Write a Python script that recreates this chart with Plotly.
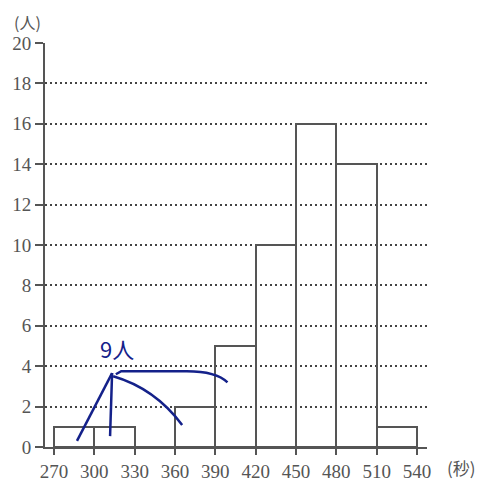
import plotly.graph_objects as go

# data
bin_edges = [270, 300, 330, 360, 390, 420, 450, 480, 510, 540]
counts = [1, 1, 0, 2, 5, 10, 16, 14, 1]
y_ticks = [0, 2, 4, 6, 8, 10, 12, 14, 16, 18, 20]
x_tick_labels = [str(e) for e in bin_edges]

centers = [(a + b) / 2 for a, b in zip(bin_edges[:-1], bin_edges[1:])]
widths = [b - a for a, b in zip(bin_edges[:-1], bin_edges[1:])]

GRAY = "#555555"
INK = "#14218a"
FONT = "Liberation Serif"

fig = go.Figure()
fig.add_trace(go.Bar(
    x=centers, y=counts, width=widths,
    marker=dict(color="rgba(255,255,255,0)", line=dict(color=GRAY, width=2)),
    hoverinfo="skip",
))

fig.update_layout(
    width=475, height=475,
    margin=dict(l=37, r=56, t=35, b=36),
    plot_bgcolor="white", paper_bgcolor="white",
    showlegend=False,
    bargap=0,
    font=dict(family=FONT, color=GRAY, size=19),
)
fig.update_xaxes(
    range=[263.3, 547.4], automargin=False,
    tickmode="array", tickvals=bin_edges, ticktext=x_tick_labels,
    ticks="outside", ticklen=6, tickwidth=1.5, tickcolor=GRAY,
    showline=True, linecolor=GRAY, linewidth=2,
    showgrid=False, zeroline=False,
    tickfont=dict(family=FONT, size=19, color=GRAY),
)
fig.update_yaxes(
    range=[0, 20], automargin=False,
    tickmode="array", tickvals=y_ticks,
    ticks="outside", ticklen=8, tickwidth=1.5, tickcolor=GRAY,
    showline=True, linecolor=GRAY, linewidth=2,
    showgrid=True, gridcolor="#444444", gridwidth=1.5, griddash="2px,3px",
    zeroline=False,
    tickfont=dict(family=FONT, size=19, color=GRAY),
)

# x-axis line extends a little to the left of the y-axis
fig.add_shape(type="line", xref="paper", yref="paper", x0=-0.021, x1=0, y0=0, y1=0,
              line=dict(color=GRAY, width=2))

fig.add_annotation(text="(人)", xref="paper", yref="paper", x=-0.045, y=1.052,
                   xanchor="center", yanchor="middle", showarrow=False, borderpad=0,
                   font=dict(family="Noto Sans CJK JP", size=16, color=GRAY))
fig.add_annotation(text="(秒)", xref="paper", yref="paper", x=1.05, y=-0.05,
                   xanchor="left", yanchor="middle", showarrow=False, borderpad=0,
                   font=dict(family="Noto Sans CJK JP", size=17, color=GRAY))

# handwritten note
fig.add_annotation(text="9人", x=317, y=4.9, xref="x", yref="y", showarrow=False,
                   font=dict(family="Noto Sans CJK JP", size=22, color=INK))
strokes = [
    "M 313.2 3.66 L 287.1 0.3",
    "M 313.2 3.66 L 311.7 0.54",
    "M 314 3.5 Q 345 2.9 365.3 1.09",
    "M 399 3.2 Q 390 3.8 365 3.75 L 320 3.75 L 316 3.6",
]
for p in strokes:
    fig.add_shape(type="path", path=p, xref="x", yref="y",
                  line=dict(color=INK, width=2.5))

fig.write_html("out.html")
